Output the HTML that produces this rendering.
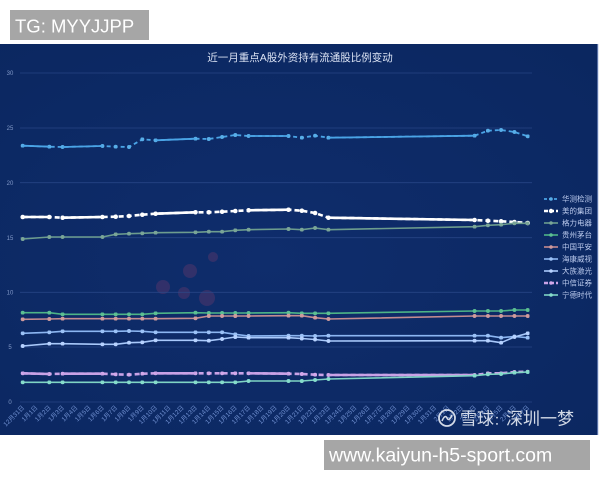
<!DOCTYPE html>
<html><head><meta charset="utf-8">
<style>
html,body{margin:0;padding:0;background:#fff;width:600px;height:480px;overflow:hidden}
svg{display:block}
</style></head>
<body>
<svg width="600" height="480" viewBox="0 0 600 480" xmlns="http://www.w3.org/2000/svg" font-family="'Liberation Sans','Noto Sans CJK SC',sans-serif">
<defs>
<radialGradient id="bg" cx="0.45" cy="0.55" r="0.75">
<stop offset="0" stop-color="#0f2d6c"/>
<stop offset="1" stop-color="#0b2760"/>
</radialGradient>
<marker id="mA" viewBox="0 0 6 6" refX="3" refY="3" markerWidth="4" markerHeight="4" markerUnits="userSpaceOnUse"><circle cx="3" cy="3" r="3" fill="#58aee8"/></marker>
<marker id="mB" viewBox="0 0 6 6" refX="3" refY="3" markerWidth="4.6" markerHeight="4.6" markerUnits="userSpaceOnUse"><circle cx="3" cy="3" r="3" fill="#ffffff"/></marker>
<marker id="mC" viewBox="0 0 6 6" refX="3" refY="3" markerWidth="4" markerHeight="4" markerUnits="userSpaceOnUse"><circle cx="3" cy="3" r="3" fill="#7aa597"/></marker>
<marker id="mD" viewBox="0 0 6 6" refX="3" refY="3" markerWidth="4" markerHeight="4" markerUnits="userSpaceOnUse"><circle cx="3" cy="3" r="3" fill="#5cbf93"/></marker>
<marker id="mE" viewBox="0 0 6 6" refX="3" refY="3" markerWidth="4" markerHeight="4" markerUnits="userSpaceOnUse"><circle cx="3" cy="3" r="3" fill="#cf9a9c"/></marker>
<marker id="mF" viewBox="0 0 6 6" refX="3" refY="3" markerWidth="4" markerHeight="4" markerUnits="userSpaceOnUse"><circle cx="3" cy="3" r="3" fill="#9cc2f7"/></marker>
<marker id="mG" viewBox="0 0 6 6" refX="3" refY="3" markerWidth="4" markerHeight="4" markerUnits="userSpaceOnUse"><circle cx="3" cy="3" r="3" fill="#b7d2ff"/></marker>
<marker id="mH" viewBox="0 0 6 6" refX="3" refY="3" markerWidth="4" markerHeight="4" markerUnits="userSpaceOnUse"><circle cx="3" cy="3" r="3" fill="#d3a9ea"/></marker>
<marker id="mI" viewBox="0 0 6 6" refX="3" refY="3" markerWidth="4" markerHeight="4" markerUnits="userSpaceOnUse"><circle cx="3" cy="3" r="3" fill="#86dccb"/></marker>
</defs>

<!-- panel -->
<rect x="0" y="44" width="598" height="391" fill="url(#bg)"/>
<rect x="597" y="44" width="1.5" height="391" fill="#8ea4d6" opacity="0.6"/>

<!-- faint red blobs -->
<g fill="#b0456e" opacity="0.22">
<circle cx="163" cy="287" r="7"/>
<circle cx="190" cy="271" r="7"/>
<circle cx="184" cy="293" r="6"/>
<circle cx="207" cy="298" r="8"/>
<circle cx="213" cy="257" r="5"/>
</g>

<!-- title -->
<text x="300" y="61" text-anchor="middle" font-size="10.5" fill="#dbe3f4">近一月重点A股外资持有流通股比例变动</text>

<!-- grid -->
<g stroke="#2c4b8c" stroke-width="0.8" opacity="0.8">
<line x1="20" y1="73" x2="532" y2="73"/>
<line x1="20" y1="128" x2="532" y2="128"/>
<line x1="20" y1="182.7" x2="532" y2="182.7"/>
<line x1="20" y1="237.7" x2="532" y2="237.7"/>
<line x1="20" y1="292.3" x2="532" y2="292.3"/>
<line x1="20" y1="347" x2="532" y2="347"/>
<line x1="20" y1="402" x2="532" y2="402"/>
</g>
<g font-size="6" fill="#8299c8" text-anchor="middle">
<text x="10" y="75">30</text>
<text x="10" y="130">25</text>
<text x="10" y="185">20</text>
<text x="10" y="240">15</text>
<text x="10" y="294.5">10</text>
<text x="10" y="349">5</text>
<text x="10" y="404">0</text>
</g>

<!-- x labels -->
<g font-size="6.3" fill="#6f8fd0" text-anchor="end">
<text transform="translate(24.7,408) rotate(-45)">12月31日</text>
<text transform="translate(38,408) rotate(-45)">1月1日</text>
<text transform="translate(51.3,408) rotate(-45)">1月2日</text>
<text transform="translate(64.6,408) rotate(-45)">1月3日</text>
<text transform="translate(77.9,408) rotate(-45)">1月4日</text>
<text transform="translate(91.2,408) rotate(-45)">1月5日</text>
<text transform="translate(104.4,408) rotate(-45)">1月6日</text>
<text transform="translate(117.7,408) rotate(-45)">1月7日</text>
<text transform="translate(131,408) rotate(-45)">1月8日</text>
<text transform="translate(144.3,408) rotate(-45)">1月9日</text>
<text transform="translate(157.6,408) rotate(-45)">1月10日</text>
<text transform="translate(170.9,408) rotate(-45)">1月11日</text>
<text transform="translate(184.2,408) rotate(-45)">1月12日</text>
<text transform="translate(197.5,408) rotate(-45)">1月13日</text>
<text transform="translate(210.8,408) rotate(-45)">1月14日</text>
<text transform="translate(224.1,408) rotate(-45)">1月15日</text>
<text transform="translate(237.3,408) rotate(-45)">1月16日</text>
<text transform="translate(250.6,408) rotate(-45)">1月17日</text>
<text transform="translate(263.9,408) rotate(-45)">1月18日</text>
<text transform="translate(277.2,408) rotate(-45)">1月19日</text>
<text transform="translate(290.5,408) rotate(-45)">1月20日</text>
<text transform="translate(303.8,408) rotate(-45)">1月21日</text>
<text transform="translate(317.1,408) rotate(-45)">1月22日</text>
<text transform="translate(330.4,408) rotate(-45)">1月23日</text>
<text transform="translate(343.7,408) rotate(-45)">1月24日</text>
<text transform="translate(357,408) rotate(-45)">1月25日</text>
<text transform="translate(370.2,408) rotate(-45)">1月26日</text>
<text transform="translate(383.5,408) rotate(-45)">1月27日</text>
<text transform="translate(396.8,408) rotate(-45)">1月28日</text>
<text transform="translate(410.1,408) rotate(-45)">1月29日</text>
<text transform="translate(423.4,408) rotate(-45)">1月30日</text>
<text transform="translate(436.7,408) rotate(-45)">1月31日</text>
<text transform="translate(450,408) rotate(-45)">2月1日</text>
<text transform="translate(463.3,408) rotate(-45)">2月2日</text>
<text transform="translate(476.6,408) rotate(-45)">2月3日</text>
<text transform="translate(489.9,408) rotate(-45)">2月4日</text>
<text transform="translate(503.1,408) rotate(-45)">2月5日</text>
<text transform="translate(516.4,408) rotate(-45)">2月6日</text>
<text transform="translate(529.7,408) rotate(-45)">2月7日</text>
</g>

<!-- series -->
<g fill="none" stroke-linejoin="round">
<!-- 华测检测 -->
<polyline stroke="#4aa4e6" stroke-width="1.8" stroke-dasharray="4 3" marker-start="url(#mA)" marker-mid="url(#mA)" marker-end="url(#mA)" points="22.7,145.7 49.3,146.7 62.6,147 102.4,146 115.7,146.7 129.0,147 142.3,139.3 155.6,140.3 195.5,138.7 208.8,139 222.1,137 235.3,135 248.6,136 288.5,136 301.8,137.7 315.1,135.7 328.4,137.7 474.6,135.7 487.9,130.7 501.1,130 514.4,132 527.7,136.3"/>
<g stroke="#4aa4e6" stroke-width="1.8">
<line x1="22.7" y1="145.7" x2="49.3" y2="146.7"/>
<line x1="62.6" y1="147" x2="102.4" y2="146"/>
<line x1="155.6" y1="140.3" x2="195.5" y2="138.7"/>
<line x1="248.6" y1="136" x2="288.5" y2="136"/>
<line x1="328.4" y1="137.7" x2="474.6" y2="135.7"/>
</g>

<!-- 美的集团 -->
<polyline stroke="#ffffff" stroke-width="2.6" stroke-dasharray="5 3" marker-start="url(#mB)" marker-mid="url(#mB)" marker-end="url(#mB)" points="22.7,217 49.3,217 62.6,217.7 102.4,217 115.7,216.7 129.0,216 142.3,214.7 155.6,213.7 195.5,212.3 208.8,212.3 222.1,211.7 235.3,211 248.6,210.3 288.5,209.7 301.8,210.7 315.1,213 328.4,217.7 474.6,220 487.9,220.7 501.1,221.3 514.4,222 527.7,223"/>
<g stroke="#ffffff" stroke-width="2.6">
<line x1="22.7" y1="217" x2="49.3" y2="217"/>
<line x1="62.6" y1="217.7" x2="102.4" y2="217"/>
<line x1="155.6" y1="213.7" x2="195.5" y2="212.3"/>
<line x1="248.6" y1="210.3" x2="288.5" y2="209.7"/>
<line x1="328.4" y1="217.7" x2="474.6" y2="220"/>
</g>

<!-- 格力电器 -->
<polyline stroke="#6d9d8e" stroke-width="1.6" marker-start="url(#mC)" marker-mid="url(#mC)" marker-end="url(#mC)" points="22.7,239 49.3,237 62.6,237 102.4,237 115.7,234.3 129.0,233.7 142.3,233.3 155.6,232.7 195.5,232.3 208.8,231.7 222.1,231.7 235.3,230.3 248.6,229.7 288.5,229 301.8,229.7 315.1,228 328.4,229.7 474.6,226.7 487.9,225.3 501.1,224.7 514.4,223.3 527.7,223.3"/>

<!-- 贵州茅台 -->
<polyline stroke="#4db487" stroke-width="1.6" marker-start="url(#mD)" marker-mid="url(#mD)" marker-end="url(#mD)" points="22.7,312.7 49.3,312.7 62.6,314.3 102.4,314.3 115.7,314.3 129.0,314.3 142.3,314.3 155.6,313.3 195.5,312.7 208.8,313 222.1,313 235.3,313 248.6,313 288.5,312.7 301.8,313.3 315.1,313.3 328.4,313.3 474.6,311 487.9,311 501.1,311 514.4,310 527.7,310"/>

<!-- 中国平安 -->
<polyline stroke="#c48b90" stroke-width="1.6" marker-start="url(#mE)" marker-mid="url(#mE)" marker-end="url(#mE)" points="22.7,319.3 49.3,319 62.6,318.7 102.4,318.7 115.7,318.7 129.0,318.7 142.3,318.7 155.6,318.7 195.5,318.3 208.8,316 222.1,316 235.3,316 248.6,316 288.5,315.7 301.8,315.7 315.1,317.7 328.4,319 474.6,316 487.9,316 501.1,316 514.4,316 527.7,316"/>

<!-- 海康威视 -->
<polyline stroke="#8cb6f2" stroke-width="1.6" marker-start="url(#mF)" marker-mid="url(#mF)" marker-end="url(#mF)" points="22.7,333.3 49.3,332.3 62.6,331.3 102.4,331.3 115.7,331.3 129.0,331 142.3,331.3 155.6,332.3 195.5,332.3 208.8,332.3 222.1,332.3 235.3,334.3 248.6,336 288.5,335.7 301.8,335.7 315.1,336 328.4,335.7 474.6,335.7 487.9,335.7 501.1,337.7 514.4,336.5 527.7,337.7"/>

<!-- 大族激光 -->
<polyline stroke="#a9c9fb" stroke-width="1.6" marker-start="url(#mG)" marker-mid="url(#mG)" marker-end="url(#mG)" points="22.7,346 49.3,343.7 62.6,343.7 102.4,344.3 115.7,344.3 129.0,342.7 142.3,342.3 155.6,340.3 195.5,340.3 208.8,340.7 222.1,339 235.3,337 248.6,337.7 288.5,337.7 301.8,338.5 315.1,339.5 328.4,341 474.6,340.7 487.9,340.7 501.1,342.7 514.4,337 527.7,333.3"/>

<!-- 中信证券 -->
<polyline stroke="#c9a2e6" stroke-width="2.6" stroke-dasharray="5 3" marker-start="url(#mH)" marker-mid="url(#mH)" marker-end="url(#mH)" points="22.7,373.3 49.3,374 62.6,373.7 102.4,373.7 115.7,374.3 129.0,374.7 142.3,373.7 155.6,373.3 195.5,373.3 208.8,373.3 222.1,373.3 235.3,373.3 248.6,373.3 288.5,373.7 301.8,374 315.1,374.7 328.4,375 474.6,375 487.9,373.3 501.1,373.3 514.4,372 527.7,371.7"/>
<g stroke="#c9a2e6" stroke-width="2.6">
<line x1="22.7" y1="373.3" x2="49.3" y2="374"/>
<line x1="62.6" y1="373.7" x2="102.4" y2="373.7"/>
<line x1="155.6" y1="373.3" x2="195.5" y2="373.3"/>
<line x1="248.6" y1="373.3" x2="288.5" y2="373.7"/>
<line x1="328.4" y1="375" x2="474.6" y2="375"/>
</g>

<!-- 宁德时代 -->
<polyline stroke="#7fd4c4" stroke-width="1.6" marker-start="url(#mI)" marker-mid="url(#mI)" marker-end="url(#mI)" points="22.7,382.3 49.3,382.3 62.6,382.3 102.4,382.3 115.7,382.3 129.0,382.3 142.3,382.3 155.6,382.3 195.5,382.3 208.8,382.3 222.1,382.3 235.3,382.3 248.6,381 288.5,381 301.8,381 315.1,380 328.4,379 474.6,375.7 487.9,374.3 501.1,374 514.4,372.7 527.7,372"/>
</g>

<!-- legend -->
<g font-size="7.5" fill="#bccbee">
<line x1="544" y1="199" x2="558" y2="199" stroke="#4aa4e6" stroke-width="1.8" stroke-dasharray="3 2"/><circle cx="551" cy="199" r="1.8" fill="#58aee8"/>
<text x="562" y="201.7">华测检测</text>
<line x1="544" y1="211" x2="558" y2="211" stroke="#fff" stroke-width="2.5" stroke-dasharray="4 2"/><circle cx="551" cy="211" r="2.2" fill="#fff"/>
<text x="562" y="213.7">美的集团</text>
<line x1="544" y1="223" x2="558" y2="223" stroke="#6d9d8e" stroke-width="1.6"/><circle cx="551" cy="223" r="1.8" fill="#7aa597"/>
<text x="562" y="225.7">格力电器</text>
<line x1="544" y1="235" x2="558" y2="235" stroke="#4db487" stroke-width="1.6"/><circle cx="551" cy="235" r="1.8" fill="#5cbf93"/>
<text x="562" y="237.7">贵州茅台</text>
<line x1="544" y1="247" x2="558" y2="247" stroke="#c48b90" stroke-width="1.6"/><circle cx="551" cy="247" r="1.8" fill="#cf9a9c"/>
<text x="562" y="249.7">中国平安</text>
<line x1="544" y1="259" x2="558" y2="259" stroke="#8cb6f2" stroke-width="1.6"/><circle cx="551" cy="259" r="1.8" fill="#9cc2f7"/>
<text x="562" y="261.7">海康威视</text>
<line x1="544" y1="271" x2="558" y2="271" stroke="#a9c9fb" stroke-width="1.6"/><circle cx="551" cy="271" r="1.8" fill="#b7d2ff"/>
<text x="562" y="273.7">大族激光</text>
<line x1="544" y1="283" x2="558" y2="283" stroke="#c9a2e6" stroke-width="2.4" stroke-dasharray="4 2"/><circle cx="551" cy="283" r="1.8" fill="#d3a9ea"/>
<text x="562" y="285.7">中信证券</text>
<line x1="544" y1="295" x2="558" y2="295" stroke="#7fd4c4" stroke-width="1.6"/><circle cx="551" cy="295" r="1.8" fill="#86dccb"/>
<text x="562" y="297.7">宁德时代</text>
</g>

<!-- watermark -->
<g opacity="0.92">
<circle cx="447" cy="418" r="8" fill="none" stroke="#e3e8f2" stroke-width="1.8"/>
<path d="M442 421 q3 -7 5 -3 q2 4 5 -3" fill="none" stroke="#e3e8f2" stroke-width="1.6"/>
<text x="460" y="424.5" font-size="17" fill="#e3e8f2">雪球<tspan font-size="12">：</tspan>深圳一梦</text>
</g>

<!-- overlay labels -->
<rect x="10" y="10" width="139" height="30" fill="#a6a6a6"/>
<text x="15" y="32.5" font-size="18.5" fill="#ffffff" font-family="'Liberation Sans',sans-serif">TG: MYYJJPP</text>
<rect x="324" y="440" width="266" height="30" fill="#a6a6a6"/>
<text x="329" y="461.5" font-size="19.5" fill="#ffffff" font-family="'Liberation Sans',sans-serif">www.kaiyun-h5-sport.com</text>
</svg>
</body></html>
